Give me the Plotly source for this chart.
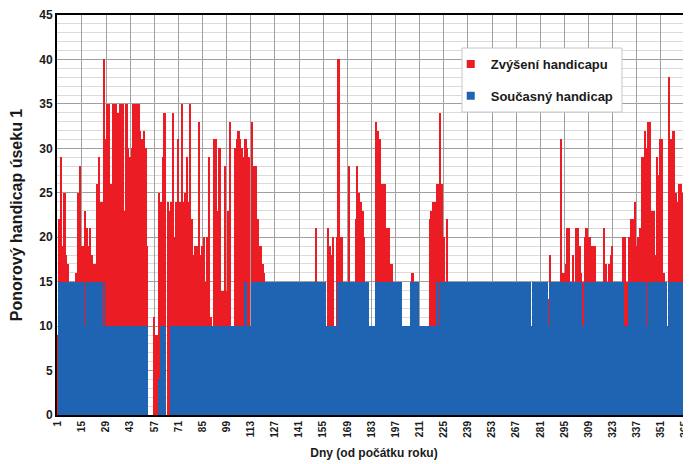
import plotly.graph_objects as go

# Days (from start of year)
days = list(range(1, 369))

# Current handicap (blue, "Současný handicap") per day
current = [
    0, 15, 15, 15, 15, 15, 15, 15, 15, 15, 15, 15, 15, 15,
    15, 15, 10, 15, 15, 15, 15, 15, 15, 15, 15, 15, 10, 15,
    10, 10, 10, 10, 10, 10, 10, 10, 10, 10, 10, 10, 10, 10,
    10, 10, 10, 10, 10, 10, 10, 10, 10, 10, 10, 0, 0, 0,
    0, 0, 0, 4, 10, 10, 10, 0, 0, 0, 10, 10, 10, 10,
    10, 10, 10, 10, 10, 10, 10, 10, 10, 10, 10, 10, 10, 10,
    10, 10, 10, 10, 10, 10, 10, 10, 10, 10, 10, 10, 10, 10,
    10, 10, 10, 10, 10, 10, 10, 10, 10, 10, 10, 15, 10, 10,
    10, 15, 15, 15, 15, 15, 15, 15, 15, 15, 15, 15, 15, 15,
    15, 15, 15, 15, 15, 15, 15, 15, 15, 15, 15, 15, 15, 15,
    15, 15, 15, 15, 15, 15, 15, 15, 15, 15, 15, 15, 15, 15,
    15, 15, 10, 10, 10, 10, 10, 10, 10, 15, 15, 15, 15, 15,
    15, 15, 15, 15, 15, 15, 15, 15, 15, 15, 15, 15, 15, 10,
    10, 10, 10, 15, 15, 15, 15, 15, 15, 15, 15, 15, 15, 15,
    15, 15, 15, 15, 10, 10, 10, 10, 10, 15, 15, 15, 15, 15,
    10, 10, 10, 10, 10, 10, 10, 10, 10, 10, 15, 10, 15, 15,
    15, 15, 15, 15, 15, 15, 15, 15, 15, 15, 15, 15, 15, 15,
    15, 15, 15, 15, 15, 15, 15, 15, 15, 15, 15, 15, 15, 15,
    15, 15, 15, 15, 15, 15, 15, 15, 15, 15, 15, 15, 15, 15,
    15, 15, 15, 15, 15, 15, 15, 15, 15, 10, 15, 15, 15, 15,
    15, 15, 15, 15, 15, 10, 15, 15, 15, 15, 15, 15, 15, 15,
    15, 15, 15, 15, 15, 15, 15, 15, 15, 15, 15, 10, 15, 15,
    15, 15, 15, 15, 15, 15, 15, 15, 15, 15, 15, 15, 15, 15,
    15, 15, 15, 15, 15, 15, 15, 10, 10, 10, 15, 15, 15, 15,
    15, 15, 15, 15, 15, 15, 10, 15, 15, 15, 15, 15, 15, 15,
    15, 15, 15, 15, 10, 15, 15, 15, 15, 15, 15, 15, 15, 15,
    15, 15, 15, 10,
]

# Top of the red bar = current + increase ("Zvýšení handicapu") per day
total = [
    9, 22, 29, 19, 25, 18, 17, 15, 15, 15, 15, 16, 25, 28,
    19, 19, 23, 21, 19, 21, 18, 17, 17, 26, 29, 24, 24, 40,
    31, 35, 35, 26, 35, 35, 35, 34, 35, 35, 35, 23, 35, 30,
    29, 30, 35, 35, 35, 35, 32, 31, 32, 30, 19, 0, 0, 0,
    11, 9, 9, 25, 24, 29, 34, 0, 24, 23, 24, 34, 20, 24,
    31, 24, 35, 24, 25, 29, 24, 35, 22, 18, 19, 19, 33, 18,
    19, 20, 15, 20, 29, 11, 10, 31, 31, 23, 30, 14, 14, 28,
    14, 23, 33, 10, 10, 30, 31, 32, 31, 30, 29, 31, 30, 29,
    10, 33, 28, 28, 22, 19, 19, 17, 16, 15, 15, 15, 15, 15,
    15, 15, 15, 15, 15, 15, 15, 15, 15, 15, 15, 15, 15, 15,
    15, 15, 15, 15, 15, 15, 15, 15, 15, 15, 21, 15, 15, 15,
    15, 15, 10, 21, 19, 18, 20, 10, 20, 40, 20, 20, 15, 15,
    15, 28, 15, 15, 15, 22, 28, 25, 24, 23, 20, 15, 15, 10,
    10, 10, 10, 33, 32, 31, 26, 26, 26, 21, 21, 17, 17, 15,
    15, 15, 15, 15, 10, 10, 10, 10, 10, 15, 16, 15, 15, 15,
    10, 10, 10, 10, 10, 10, 22, 23, 24, 24, 26, 26, 34, 26,
    20, 15, 22, 15, 15, 15, 15, 15, 15, 15, 15, 15, 15, 15,
    15, 15, 15, 15, 15, 15, 15, 15, 15, 15, 15, 15, 15, 15,
    15, 15, 15, 15, 15, 15, 15, 15, 15, 15, 15, 15, 15, 15,
    15, 15, 15, 15, 15, 15, 15, 15, 15, 10, 15, 15, 15, 15,
    15, 15, 15, 15, 15, 13, 18, 15, 15, 15, 15, 15, 31, 16,
    16, 17, 21, 21, 15, 18, 15, 21, 21, 19, 16, 15, 20, 21,
    20, 20, 19, 19, 19, 15, 15, 15, 15, 21, 17, 15, 17, 18,
    19, 15, 15, 15, 15, 15, 20, 20, 15, 15, 20, 22, 22, 24,
    19, 20, 21, 29, 29, 32, 30, 33, 33, 23, 23, 18, 29, 27,
    31, 31, 16, 15, 10, 38, 31, 32, 32, 25, 24, 26, 26, 25,
    25, 24, 25, 10,
]

tick_vals = [1, 15, 29, 43, 57, 71, 85, 99, 113, 127, 141, 155, 169, 183,
             197, 211, 225, 239, 253, 267, 281, 295, 309, 323, 337, 351, 365]
tick_text = ["1", "15", "29", "43", "57", "71", "85", "99", "113", "127", "141",
             "155", "169", "183", "197", "211", "225", "239", "253", "267",
             "281", "295", "309", "323", "337", "351", "365"]

RED = "#EC1C24"
BLUE = "#1F63B3"
FONT = "Liberation Sans"

fig = go.Figure()
fig.add_trace(go.Bar(x=days, y=total, marker=dict(color=RED, line=dict(width=0)),
                     showlegend=False, hoverinfo="skip"))
fig.add_trace(go.Bar(x=days, y=current, marker=dict(color=BLUE, line=dict(width=0)),
                     showlegend=False, hoverinfo="skip"))
# legend entries
fig.add_trace(go.Scatter(x=[None], y=[None], mode="markers", name="Zvýšení handicapu",
                         marker=dict(symbol="square", size=8, color=RED),
                         legendgroup="a"))
fig.add_trace(go.Scatter(x=[None], y=[None], mode="markers", name="Současný handicap",
                         marker=dict(symbol="square", size=8, color=BLUE),
                         legendgroup="b"))

fig.update_layout(
    width=683, height=456,
    margin=dict(l=49, r=0, t=7, b=49, autoexpand=False),
    paper_bgcolor="white", plot_bgcolor="white",
    barmode="overlay", bargap=0,
    font=dict(family=FONT, color="#1a1a1a"),
    legend=dict(x=0.621, y=0.915, xanchor="left", yanchor="top",
                bgcolor="rgba(0,0,0,0)", borderwidth=0,
                font=dict(family=FONT, size=13, weight="bold", color="#1a1a1a"),
                traceorder="grouped", tracegroupgap=12, itemwidth=30),
    shapes=[dict(type="rect", xref="paper", yref="paper",
                 x0=0.6388, x1=0.8912, y0=0.7575, y1=0.9175,
                 fillcolor="white", line=dict(color="#c8c8c8", width=1),
                 layer="above")],
)

fig.update_xaxes(
    range=[0.5, 368.5], tickmode="array", tickvals=tick_vals, ticktext=tick_text,
    tickangle=-90, tickfont=dict(family=FONT, size=10, weight="bold", color="#1a1a1a"),
    showline=True, linecolor="black", linewidth=2, mirror=True, automargin=False,
    showgrid=True, gridcolor="#a0a0a0", gridwidth=1, zeroline=False, ticks="",
    title=dict(text="Dny (od počátku roku)", standoff=12,
               font=dict(family=FONT, size=12, weight="bold", color="#1a1a1a")),
)
fig.update_yaxes(
    range=[0, 45], dtick=5, tick0=0, automargin=False,
    tickfont=dict(family=FONT, size=12, weight="bold", color="#1a1a1a"),
    showline=True, linecolor="black", linewidth=2, mirror=False,
    showgrid=True, gridcolor="#a0a0a0", gridwidth=1, zeroline=False, ticks="",
    minor=dict(dtick=1, showgrid=True, gridcolor="#dadada", gridwidth=1),
    title=dict(text="Ponorový handicap úseku 1", standoff=14,
               font=dict(family=FONT, size=16, weight="bold", color="#1a1a1a")),
)

fig.write_html("out.html")
